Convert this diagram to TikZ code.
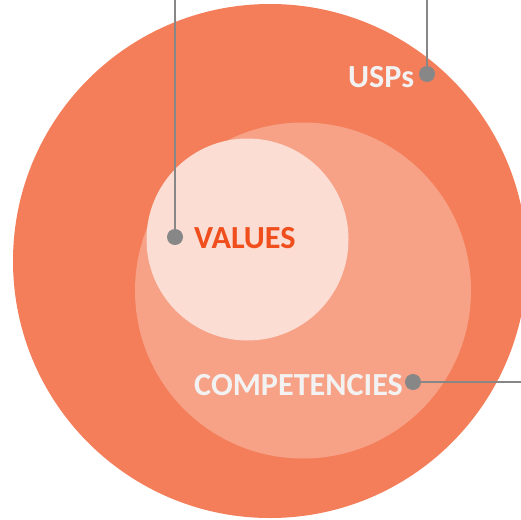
\documentclass[tikz,border=0pt]{standalone}
\usepackage{fontspec}
\setmainfont{Carlito}
\usepackage{tikz}
\usetikzlibrary{calc}
\definecolor{outerring}{HTML}{F37E59}
\definecolor{middlering}{HTML}{F7A286}
\definecolor{innerring}{HTML}{FBDDD3}
\definecolor{pin}{HTML}{878787}
\definecolor{valuetext}{HTML}{F04E1C}
\definecolor{lighttext}{HTML}{F2F2F2}
\tikzstyle{pindot} = [circle, fill = pin, inner sep = 0pt, minimum size = 16pt]
\tikzstyle{pinline} = [draw = pin, line width = 2pt]
\tikzstyle{tag} = [anchor = base west, inner sep = 0pt, font = \fontsize{32.2}{32}\selectfont\bfseries]

\begin{document}
\begin{tikzpicture}[x = 1pt, y = -1pt]
	\useasboundingbox (0, 0) rectangle (521, 519) ;
	
	\fill[outerring] (270, 261) circle (257) ;
	\fill[middlering] (303, 290.5) circle (168) ;
	\fill[innerring] (247.5, 239.5) circle (101) ;
	
	\node[pindot] (V) at (175, 237) {} ;
	\node[pindot] (U) at (427, 74) {} ;
	\node[pindot] (C) at (413, 382) {} ;
	
	\coordinate (V') at (175, 0) ;
	\coordinate (U') at (427, 0) ;
	\coordinate (C') at (521, 382) ;
	
	\foreach \p in {V, U}
	{
		\draw[pinline] (\p) -- (\p') ;
	}
	\draw[pinline, line width = 1.5pt] (C) -- (C') ;
	
	\node[tag, text = lighttext] (usps) at (348, 87) {USPs} ;
	\node[tag, text = valuetext] (values) at (194, 248) {VALUES} ;
	\node[tag, text = lighttext] (comp) at (194, 395) {COMPETENCIES} ;
	
\end{tikzpicture}
\end{document}
